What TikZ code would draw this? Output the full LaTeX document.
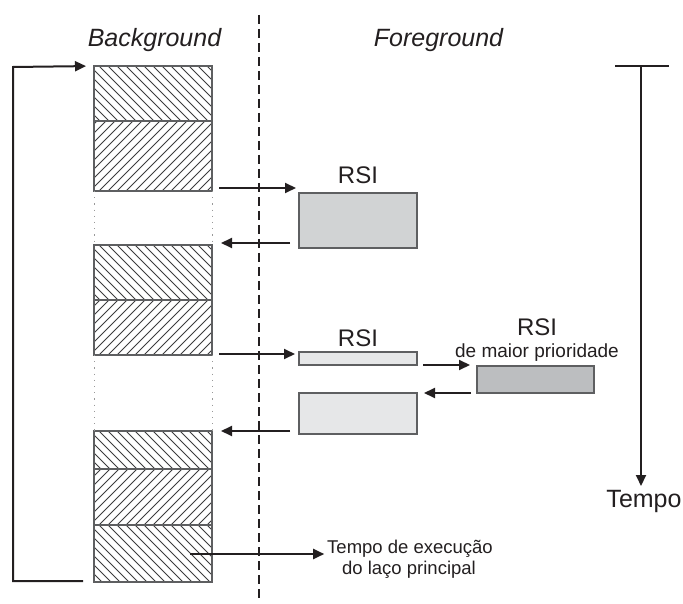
\documentclass[tikz,border=0pt]{standalone}
\usepackage{fontspec}
\setmainfont{Liberation Sans}
\usetikzlibrary{arrows.meta,calc}
\definecolor{ink}{HTML}{231F20}
\definecolor{edge}{HTML}{5E5F61}
\definecolor{hatchc}{HTML}{3C3C3E}
\definecolor{rsimid}{HTML}{D1D3D4}
\definecolor{rsilight}{HTML}{E6E7E8}
\definecolor{rsidark}{HTML}{BCBEC0}
\begin{document}
\begin{tikzpicture}[x=1pt,y=-1pt,
  every node/.style={inner sep=0pt,outer sep=0pt,text=ink},
  hatchline/.style={draw=hatchc,line width=0.8pt},
  blockbox/.style={draw=edge,line width=1.2pt,anchor=north west,minimum width=118pt},
  hatchdown/.style={blockbox,minimum height=#1,
    path picture={\foreach \k in {-16,...,16}{\draw[hatchline] ([xshift=\k*9pt]path picture bounding box.north) -- ++(90pt,-90pt);}}},
  hatchup/.style={blockbox,minimum height=#1,
    path picture={\foreach \k in {-16,...,16}{\draw[hatchline] ([xshift=\k*9pt]path picture bounding box.south) -- ++(90pt,90pt);}}},
  rsibox/.style={draw=edge,line width=1.2pt,anchor=north west},
  gapdot/.style={draw=gray!80,line width=1pt,dash pattern=on 1.2pt off 5pt},
  arr/.style={draw=ink,line width=2pt,-{Triangle[length=11pt 0 0,width=10pt 0 0]}},
  heading/.style={font=\fontsize{25}{30}\selectfont\itshape,anchor=base},
  rsilabel/.style={font=\fontsize{24}{28}\selectfont,anchor=base},
  small/.style={font=\fontsize{18.5}{21}\selectfont,anchor=base}]
\useasboundingbox (0,0) rectangle (683,604);

% headings and the dashed separator
\node[heading] (bg) at (154.5,47) {Background};
\node[heading] (fg) at (438.5,47) {Foreground};
\coordinate (septop) at (259,15);
\coordinate (sepbot) at (259,599);
\draw[ink,line width=1.8pt,dash pattern=on 9pt off 5pt] (septop) -- (sepbot);

% main loop blocks (background)
\node[hatchdown=55pt] (b1a) at (94,66) {};
\node[hatchup=70pt]   (b1b) at (94,121) {};
\node[hatchdown=55pt] (b2a) at (94,245) {};
\node[hatchup=55pt]   (b2b) at (94,300) {};
\node[hatchdown=38pt] (b3a) at (94,431) {};
\node[hatchup=56pt]   (b3b) at (94,469) {};
\node[hatchdown=57pt] (b3c) at (94,525) {};

% interrupted stretches of the loop
\draw[gapdot] (b1b.south west) -- (b2a.north west);
\draw[gapdot] (b1b.south east) -- (b2a.north east);
\draw[gapdot] (b2b.south west) -- (b3a.north west);
\draw[gapdot] (b2b.south east) -- (b3a.north east);

% loop-back arrow on the left
\coordinate (loopbot) at (83,581);
\coordinate (loopl1) at (13,581);
\coordinate (loopl2) at (13,67);
\draw[arr,shorten >=8pt] (loopbot) -- (loopl1) -- (loopl2) -- (b1a.north west);

% interrupt service routines (foreground)
\node[rsibox,fill=rsimid,minimum width=118pt,minimum height=55pt] (r1) at (299,193) {};
\node[rsibox,fill=rsilight,minimum width=118pt,minimum height=13pt] (r2) at (299,352) {};
\node[rsibox,fill=rsilight,minimum width=118pt,minimum height=41pt] (r3) at (299,393) {};
\node[rsibox,fill=rsidark,minimum width=117pt,minimum height=27pt] (r4) at (477,366) {};

\node[rsilabel] (l1) at (358,184) {RSI};
\node[rsilabel] (l2) at (358,346) {RSI};
\node[rsilabel] (l3) at (537,335) {RSI};
\node[font=\fontsize{19}{22}\selectfont,anchor=base] (l4) at (537,357) {de maior prioridade};

% transfers between background and foreground
\coordinate (a1) at (219,188);
\draw[arr,shorten >=3pt] (a1) -- (a1 -| r1.west);
\coordinate (a2) at (221,243);
\draw[arr,shorten <=9pt] (a2 -| r1.west) -- (a2);
\coordinate (a3) at (219,354);
\draw[arr,shorten >=4pt] (a3) -- (a3 -| r2.west);
\coordinate (a4) at (221,431);
\draw[arr,shorten <=9pt] (a4 -| r3.west) -- (a4);
\coordinate (a5) at (423,365);
\draw[arr,shorten >=7pt] (a5) -- (a5 -| r4.west);
\coordinate (a6) at (424,393);
\draw[arr,shorten <=6pt] (a6 -| r4.west) -- (a6);

% loop execution time annotation
\node[small] (t1) at (410,553) {Tempo de execução};
\node[small] (t2) at (409,574) {do laço principal};
\coordinate (a7) at (190,554);
\draw[arr,shorten >=3pt] (a7) -- (a7 -| t1.west);

% time axis
\coordinate (tl) at (615,66);
\coordinate (tr) at (669,66);
\coordinate (tt) at (641,66);
\draw[ink,line width=1.8pt] (tl) -- (tr);
\node[font=\fontsize{25}{30}\selectfont,anchor=base] (tempo) at (644,507) {Tempo};
\coordinate (tb) at (641,486);
\draw[arr] (tt) -- (tb);
\end{tikzpicture}
\end{document}
